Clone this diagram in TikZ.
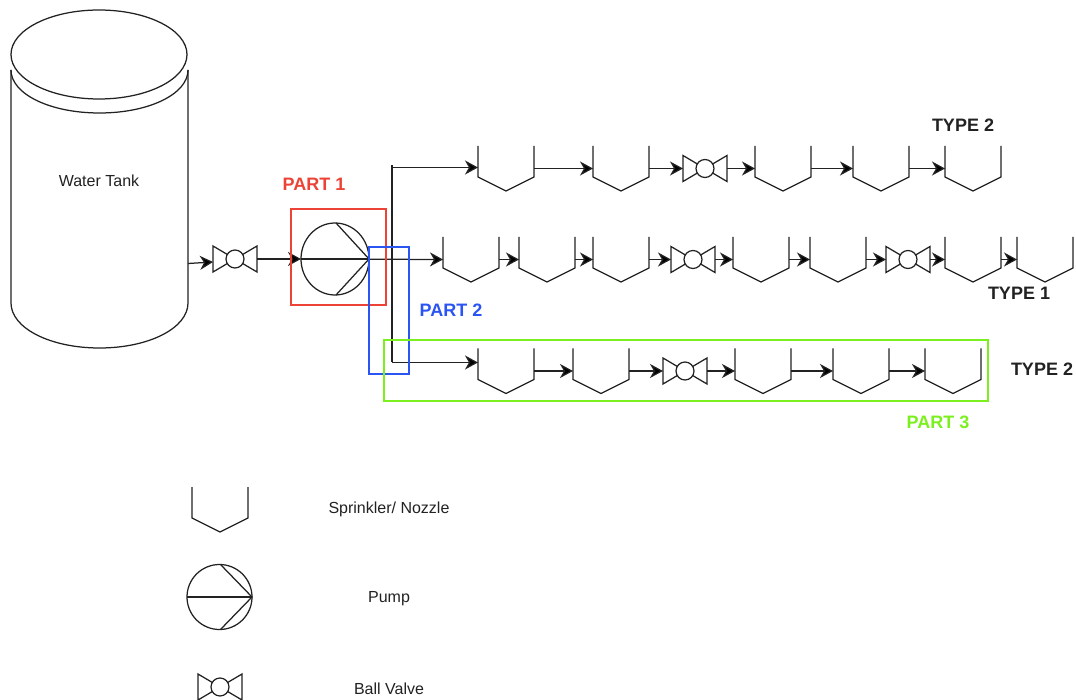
\documentclass[tikz,border=0pt]{standalone}
\usepackage{fontspec}
\setmainfont{Liberation Sans}
\usetikzlibrary{arrows.meta,shapes.geometric,calc}
\definecolor{ink}{HTML}{222222}
\definecolor{partred}{HTML}{EC4336}
\definecolor{partblue}{HTML}{2B55F2}
\definecolor{partgreen}{HTML}{7CF01E}
\tikzset{
  x=1pt,y=-1pt,
  symb/.style={draw=ink,line width=1.25pt,line join=miter},
  sprkbox/.style={rectangle,inner sep=0pt,outer sep=0pt,minimum width=56pt,minimum height=45pt,anchor=north west},
  valvebox/.style={rectangle,inner sep=0pt,outer sep=0pt,minimum width=44pt,minimum height=26pt},
  pumpbox/.style={ellipse,draw=ink,line width=1.25pt,inner sep=0pt,outer sep=0pt},
  pipe/.style={draw=ink,line width=1.25pt},
  flow/.style={pipe,-{Stealth[length=13pt,width=14pt,inset=4pt,fill=black]}},
  partframe/.style={draw=#1,line width=2.5pt,inner sep=0pt,outer sep=0pt,rectangle,anchor=north west},
  plain/.style={font=\fontsize{16}{18}\selectfont,text=ink,inner sep=0pt},
  heading/.style={font=\fontsize{18}{20}\selectfont\bfseries,inner sep=0pt},
}
\newcommand{\Sprk}[3]{%
  \node[sprkbox] (#1) at (#2,#3) {};
  \draw[symb] (#1.north west) -- ++(0,31) -- ++(28,14) -- ++(28,-14) -- ++(0,-31);
}
\newcommand{\Vlv}[3]{%
  \node[valvebox] (#1) at (#2,#3) {};
  \draw[symb] (#1.north west) -- (#1.south west) -- (#1.north east) -- (#1.south east) -- cycle;
  \draw[symb,fill=white] (#1.center) circle (9);
}
\newcommand{\Pmp}[5]{%
  \node[pumpbox,minimum width=#4pt,minimum height=#5pt] (#1) at (#2,#3) {};
  \draw[symb] (#1.west) -- (#1.east);
  \draw[symb] ($(#1.north)+(1,0)$) -- (#1.east) -- ($(#1.south)+(1,0)$);
}
\begin{document}
\begin{tikzpicture}
\useasboundingbox (0,0) rectangle (1076,700);
\fill[white] (0,0) rectangle (1076,700);

% water tank
\node[ellipse,draw=ink,line width=1.25pt,inner sep=0pt,minimum width=176pt,minimum height=89pt] (tank) at (99,54.5) {};
\draw[pipe] (11,70) .. controls (11,94) and (50,113) .. (99.5,113) .. controls (149,113) and (188,94) .. (188,70);
\draw[pipe] (11,70) -- (11,303) .. controls (11,328) and (50,348) .. (99.5,348) .. controls (149,348) and (188,328) .. (188,303) -- (188,70);
\node[plain] (tanklabel) at (99,181) {Water Tank};

% first valve and pump
\Vlv{v0}{235}{259}
\Pmp{pump}{335}{259}{68}{72}
\coordinate (tankout) at (188,263.5);
\coordinate (v0in) at (213,262);
\draw[flow] (tankout) -- (v0in);
\draw[flow] (v0.east) -- (pump.west);

% top row
\Sprk{t1}{478}{146}
\Sprk{t2}{593}{146}
\Vlv{tv}{705}{168.5}
\Sprk{t3}{755}{146}
\Sprk{t4}{853}{146}
\Sprk{t5}{945}{146}
\foreach \a/\b in {t1/t2,t2/tv,tv/t3,t3/t4,t4/t5} \draw[flow] (\a.east) -- (\b.west);

% middle row
\Sprk{m1}{443}{237}
\Sprk{m2}{519}{237}
\Sprk{m3}{593}{237}
\Vlv{mv1}{693}{259.5}
\Sprk{m4}{733}{237}
\Sprk{m5}{810}{237}
\Vlv{mv2}{908}{259.5}
\Sprk{m6}{945}{237}
\Sprk{m7}{1017}{237}
\foreach \a/\b in {m1/m2,m2/m3,m3/mv1,mv1/m4,m4/m5,m5/mv2,mv2/m6,m6/m7} \draw[flow] (\a.east) -- (\b.west);
\draw[flow] (pump.west) -- (m1.west);

% bottom row
\Sprk{b1}{478}{348.5}
\Sprk{b2}{573}{348.5}
\Vlv{bv}{685}{371}
\Sprk{b3}{735}{348.5}
\Sprk{b4}{833}{348.5}
\Sprk{b5}{925}{348.5}
\foreach \a/\b in {b1/b2,b2/bv,bv/b3,b3/b4,b4/b5} \draw[flow] (\a.east) -- (\b.west);

% branch manifold
\coordinate (jtop) at (392,165);
\coordinate (jt) at (392,167.5);
\coordinate (jb) at (392,362.5);
\draw[pipe] (jtop) -- (jb);
\draw[flow] (jt) -- (jt -| t1.west);
\draw[flow] (jb) -- (jb -| b1.west);

% part frames
\node[partframe=partred,minimum width=95pt,minimum height=96pt] (part1) at (291,209) {};
\node[partframe=partblue,minimum width=40pt,minimum height=127pt] (part2) at (369,247) {};
\node[partframe=partgreen,minimum width=604pt,minimum height=61pt] (part3) at (384,340) {};
\node[heading,text=partred] (l1) at (314,184) {PART 1};
\node[heading,text=partblue] (l2) at (451,310) {PART 2};
\node[heading,text=partgreen] (l3) at (938,422) {PART 3};
\node[heading,text=ink] (ty1) at (963,125) {TYPE 2};
\node[heading,text=ink] (ty2) at (1019,293) {TYPE 1};
\node[heading,text=ink] (ty3) at (1042,369) {TYPE 2};

% legend
\Sprk{ls}{192}{487}
\Pmp{lp}{219.5}{597}{65}{65}
\Vlv{lv}{220}{687}
\node[plain] (lt1) at (389,509) {Sprinkler/ Nozzle};
\node[plain] (lt2) at (389,599) {Pump};
\node[plain] (lt3) at (389,688.5) {Ball Valve};
\end{tikzpicture}
\end{document}
